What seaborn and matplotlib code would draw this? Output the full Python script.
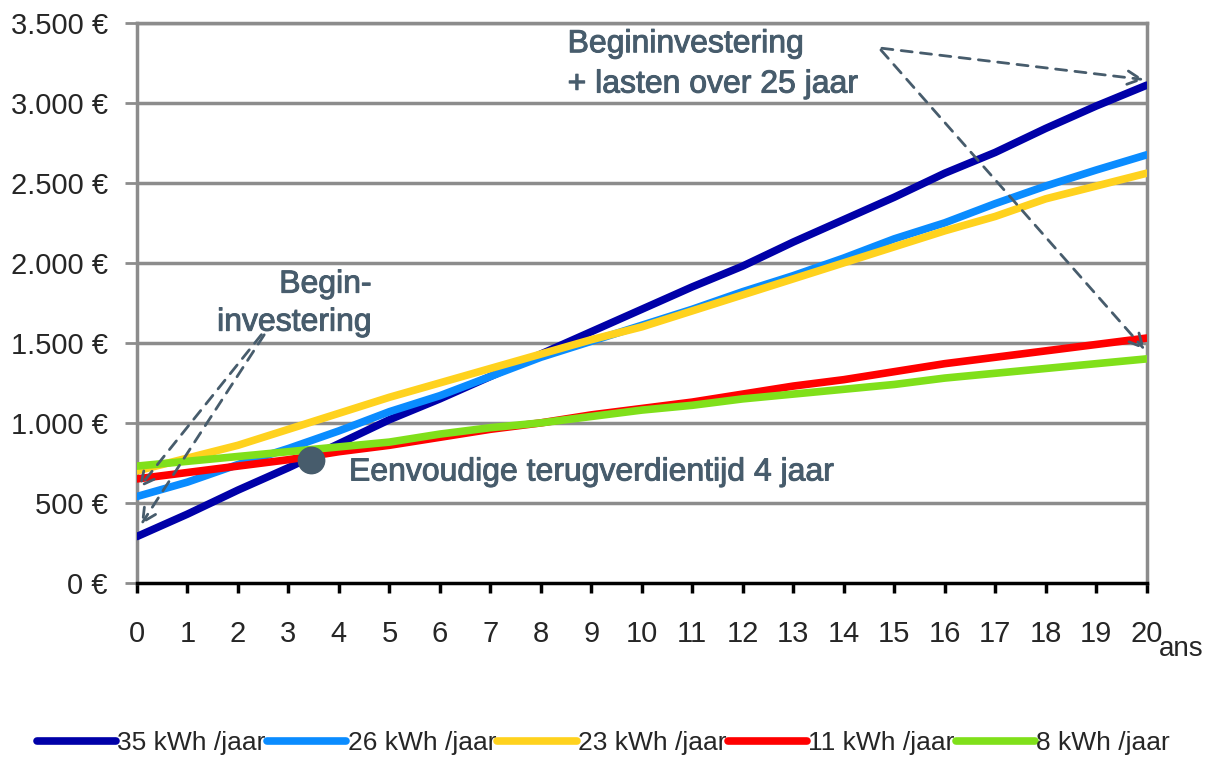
import numpy as np
import pandas as pd
import matplotlib
matplotlib.use('Agg')
import matplotlib.pyplot as plt
import matplotlib.patheffects as pe
from matplotlib.ticker import FuncFormatter
import seaborn as sns

years = list(range(0, 21))
kwh35 = [290, 430, 580, 720, 870, 1020, 1150, 1290, 1430, 1570, 1710, 1850, 1980, 2130, 2270, 2410, 2560, 2690, 2840, 2980, 3110]
kwh26 = [540, 630, 740, 840, 950, 1070, 1170, 1290, 1410, 1510, 1610, 1710, 1820, 1920, 2030, 2150, 2250, 2370, 2480, 2580, 2675]
kwh23 = [700, 780, 860, 960, 1060, 1160, 1250, 1340, 1430, 1520, 1600, 1700, 1800, 1900, 2000, 2100, 2200, 2290, 2400, 2480, 2560]
kwh11 = [650, 690, 730, 770, 820, 860, 910, 960, 1000, 1050, 1090, 1130, 1180, 1230, 1270, 1320, 1370, 1410, 1450, 1490, 1530]
kwh8 = [730, 760, 790, 820, 850, 880, 930, 970, 1000, 1040, 1080, 1110, 1150, 1180, 1210, 1240, 1280, 1310, 1340, 1370, 1400]

labels = ['35 kWh /jaar', '26 kWh /jaar', '23 kWh /jaar', '11 kWh /jaar', '8 kWh /jaar']
colors = ['#0000a8', '#0a8cff', '#ffd21e', '#ff0000', '#80e01a']

payback_year = 3.45
payback_value = 770

df = pd.DataFrame({'jaar': years * 5,
                   'kosten': kwh35 + kwh26 + kwh23 + kwh11 + kwh8,
                   'reeks': [l for l in labels for _ in years]})

sns.set_style('white')
plt.rcParams['font.family'] = ['Liberation Sans', 'DejaVu Sans']

fig = plt.figure(figsize=(12.07, 7.6), dpi=100)
ax = fig.add_axes([0.1135, 0.233, 0.8365, 0.737])

grey = '#8c8c8c'
note = '#475c6c'
bolder = [pe.withStroke(linewidth=0.7, foreground=note)]

for v in range(500, 3501, 500):
    ax.axhline(v, color=grey, lw=2.5, zorder=0)

sns.lineplot(data=df, x='jaar', y='kosten', hue='reeks', palette=colors,
             linewidth=5.5, legend=False, ax=ax, zorder=3)

ax.set_xlim(0, 20)
ax.set_ylim(0, 3500)
ax.set_xticks(years)
ax.set_yticks(range(0, 3501, 500))
ax.yaxis.set_major_formatter(FuncFormatter(lambda v, p: f'{int(v):,} €'.replace(',', '.')))
ax.set_xlabel('')
ax.set_ylabel('')

for s in ['left', 'right', 'top']:
    ax.spines[s].set_color(grey)
    ax.spines[s].set_linewidth(2.5)
ax.spines['bottom'].set_color('black')
ax.spines['bottom'].set_linewidth(2.5)

ax.tick_params(axis='y', length=9, width=2, color=grey, direction='out', labelsize=21, pad=12, left=True)
ax.tick_params(axis='x', length=7, width=2.5, color='black', direction='out', labelsize=21, pad=20, bottom=True)
ax.text(1.012, -0.118, 'ans', transform=ax.transAxes, fontsize=20, ha='left', va='center')

# break-even point
ax.plot(payback_year, payback_value, 'o', ms=19, color=note, zorder=5)
ax.text(4.2, 690, 'Eenvoudige terugverdientijd 4 jaar', fontsize=23, color=note, va='center',
        path_effects=bolder)

# annotations
arrow = dict(arrowstyle='->', linestyle=(0, (4, 3)), color=note, lw=2, mutation_scale=24)
ax.text(4.65, 1745, 'Begin-\ninvestering', fontsize=23, color=note, ha='right', va='center',
        linespacing=1.35, path_effects=bolder)
ax.annotate('', xy=(0.0, 580), xytext=(2.5, 1565), arrowprops=arrow)
ax.annotate('', xy=(0.05, 350), xytext=(2.55, 1565), arrowprops=arrow)

ax.text(8.53, 3240, 'Begininvestering\n+ lasten over 25 jaar', fontsize=23, color=note, ha='left',
        va='center', linespacing=1.45, path_effects=bolder)
ax.annotate('', xy=(20, 3143), xytext=(14.7, 3343), arrowprops=arrow, annotation_clip=False)
ax.annotate('', xy=(20, 1444), xytext=(14.7, 3343), arrowprops=arrow, annotation_clip=False)

handles = [plt.Line2D([0], [0], color=c, lw=5.5) for c in colors]
fig.legend(handles, labels, loc='center', bbox_to_anchor=(0.5, 0.022), ncol=5, frameon=False,
           fontsize=19, handlelength=3.0, handletextpad=0.05, columnspacing=0.05)

fig.savefig('out.png', dpi=100)
